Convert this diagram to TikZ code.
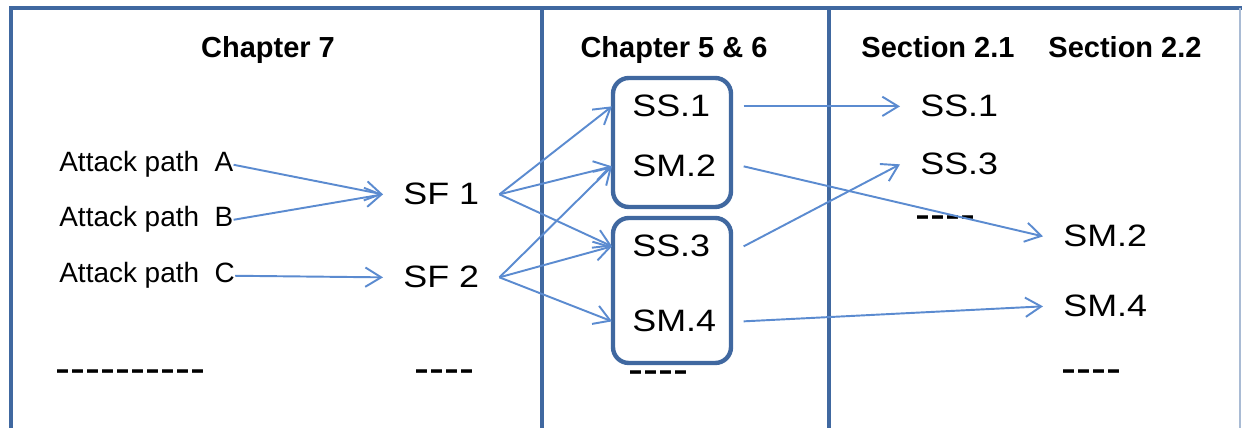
\documentclass[tikz,border=0pt]{standalone}
\usepackage{fontspec}
\setmainfont{Liberation Sans}
\newfontfamily\widesf[FakeStretch=1.16]{Liberation Sans}
\usetikzlibrary{arrows.meta}
\definecolor{framebl}{HTML}{4068A0}
\definecolor{arrbl}{HTML}{5B8BD0}
\newcommand\hy{\mbox{-}}

\begin{document}
\begin{tikzpicture}[x=0.02cm,y=-0.02cm,
        frame/.style={framebl,line width=2.3pt},
        grp/.style={framebl,line width=2.5pt,rounded corners=9pt},
        link/.style={arrbl,line width=1.1pt,-{Straight Barb[length=9pt,width=11pt]}},
        ttl/.style={anchor=base,inner sep=0pt,font=\bfseries\fontsize{16.5}{20}\selectfont},
        apath/.style={anchor=base west,inner sep=0pt,font=\fontsize{15.9}{19}\selectfont},
        lbl/.style={anchor=base west,inner xsep=0.4cm,inner ysep=0pt,font=\widesf\fontsize{17.6}{21}\selectfont},
        boxlbl/.style={lbl,text width=1.82cm,align=left},
        dsh/.style={anchor=base west,inner sep=0pt,font=\fontsize{25.6}{30}\selectfont}]
                \useasboundingbox (0,0) rectangle (1242,428);

                \draw[frame] (11,428) -- (11,8) -- (1242,8);
                \draw[frame] (542,8) -- (542,428);
                \draw[frame] (829,8) -- (829,428);
                \draw[framebl!45,line width=0.6pt] (1240,8) -- (1240,428);

                \node[ttl] (t7) at (268,58) {Chapter 7};
                \node[ttl] (t56) at (674,58) {Chapter 5 \& 6};
                \node[ttl] (t21) at (938,58) {Section 2.1};
                \node[ttl] (t22) at (1125,58) {Section 2.2};

                \node[apath] (pa) at (59,172) {Attack path\ \ A};
                \node[apath] (pb) at (59,227) {Attack path\ \ B};
                \node[apath] (pc) at (59,283) {Attack path\ \ C};

                \node[lbl] (sf1) at (383,205) {SF 1};
                \node[lbl] (sf2) at (383,288) {SF 2};

                \draw[grp] (613,78) rectangle (731,207);
                \draw[grp] (613,218) rectangle (731,363);
                \node[boxlbl] (ss1) at (612,117) {SS.1};
                \node[boxlbl] (sm2) at (612,177) {SM.2};
                \node[boxlbl] (ss3) at (612,257) {SS.3};
                \node[boxlbl] (sm4) at (612,332) {SM.4};

                \node[lbl] (rss1) at (900,117) {SS.1};
                \node[lbl] (rss3) at (900,175) {SS.3};
                \node[lbl] (rsm2) at (1043,247) {SM.2};
                \node[lbl] (rsm4) at (1043,317) {SM.4};

                \node[dsh] (d1) at (55,384) {\hy\hy\hy\hy\hy\hy\hy\hy\hy\hy};
                \node[dsh] (d2) at (414,384) {\hy\hy\hy\hy};
                \node[dsh] (d3) at (628,385) {\hy\hy\hy\hy};
                \node[dsh] (d4) at (915,230) {\hy\hy\hy\hy};
                \node[dsh] (d5) at (1061,384) {\hy\hy\hy\hy};

                \draw[link] (pa.east) -- (sf1.west);
                \draw[link] (pb.east) -- (sf1.west);
                \draw[link] (pc.east) -- (sf2.west);

                \draw[link] (sf1.east) -- (ss1.west);
                \draw[link] (sf1.east) -- (sm2.west);
                \draw[link] (sf1.east) -- (ss3.west);
                \draw[link] (sf2.east) -- (sm2.west);
                \draw[link] (sf2.east) -- (ss3.west);
                \draw[link] (sf2.east) -- (sm4.west);

                \draw[link] (ss1.east) -- (rss1.west);
                \draw[link] (sm2.east) -- (rsm2.west);
                \draw[link] (ss3.east) -- (rss3.west);
                \draw[link] (sm4.east) -- (rsm4.west);
\end{tikzpicture}
\end{document}
